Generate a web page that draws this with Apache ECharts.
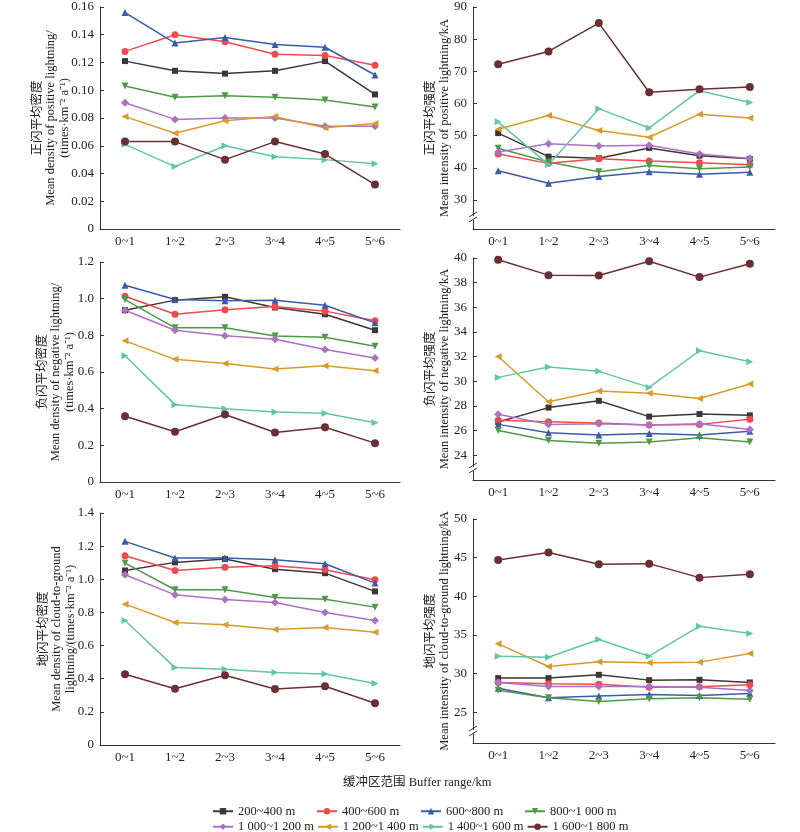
<!DOCTYPE html>
<html>
<head>
<meta charset="utf-8">
<script src="https://cdn.jsdelivr.net/npm/echarts@6/dist/echarts.min.js"></script>
<style>
  html, body { margin: 0; padding: 0; background: #fff; }
  #main { width: 800px; height: 832px; }
</style>
</head>
<body>
<div id="main"></div>
<script>
// 缓冲区范围
var categories = ['0~1', '1~2', '2~3', '3~4', '4~5', '5~6'];
var seriesNames = ['200~400 m', '400~600 m', '600~800 m', '800~1 000 m',
    '1 000~1 200 m', '1 200~1 400 m', '1 400~1 600 m', '1 600~1 800 m'];

// 正闪平均密度 (rows follow seriesNames)
var posDensity = [
    [0.121, 0.114, 0.112, 0.114, 0.121, 0.097],
    [0.128, 0.140, 0.135, 0.126, 0.125, 0.118],
    [0.156, 0.134, 0.138, 0.133, 0.131, 0.111],
    [0.103, 0.095, 0.096, 0.095, 0.093, 0.088],
    [0.091, 0.079, 0.080, 0.080, 0.074, 0.074],
    [0.081, 0.069, 0.078, 0.081, 0.073, 0.076],
    [0.061, 0.045, 0.060, 0.052, 0.050, 0.047],
    [0.063, 0.063, 0.050, 0.063, 0.054, 0.032]
];
// 正闪平均强度
var posIntensity = [
    [50.8, 43.5, 43.0, 46.2, 43.8, 42.8],
    [44.3, 41.4, 42.8, 42.1, 41.6, 41.0],
    [39.1, 35.2, 37.3, 38.8, 38.0, 38.6],
    [46.1, 41.8, 38.8, 40.7, 39.7, 40.3],
    [44.9, 47.5, 46.8, 47.0, 44.3, 42.9],
    [52.0, 56.3, 51.6, 49.5, 56.7, 55.5],
    [54.3, 41.0, 58.4, 52.4, 64.0, 60.3],
    [72.2, 76.2, 85.0, 63.5, 64.4, 65.1]
];
// 负闪平均密度
var negDensity = [
    [0.937, 0.992, 1.010, 0.952, 0.915, 0.828],
    [1.013, 0.915, 0.939, 0.957, 0.932, 0.879],
    [1.073, 0.995, 0.988, 0.992, 0.964, 0.868],
    [0.995, 0.841, 0.841, 0.796, 0.789, 0.741],
    [0.937, 0.828, 0.798, 0.779, 0.723, 0.676],
    [0.770, 0.669, 0.647, 0.616, 0.634, 0.607],
    [0.689, 0.422, 0.399, 0.382, 0.375, 0.323],
    [0.359, 0.274, 0.368, 0.270, 0.299, 0.212]
];
// 负闪平均强度
var negIntensity = [
    [26.7, 27.87, 28.42, 27.14, 27.35, 27.24],
    [26.84, 26.73, 26.62, 26.45, 26.51, 26.92],
    [26.51, 25.83, 25.64, 25.77, 25.64, 25.96],
    [26.02, 25.20, 24.98, 25.09, 25.42, 25.09],
    [27.33, 26.51, 26.56, 26.45, 26.56, 26.10],
    [32.01, 28.34, 29.21, 29.04, 28.61, 29.78],
    [30.32, 31.17, 30.81, 29.51, 32.48, 31.58],
    [39.86, 38.61, 38.58, 39.73, 38.45, 39.54]
];
// 地闪平均密度
var cgDensity = [
    [1.053, 1.102, 1.122, 1.061, 1.037, 0.927],
    [1.142, 1.053, 1.072, 1.082, 1.057, 0.997],
    [1.229, 1.128, 1.128, 1.118, 1.094, 0.977],
    [1.098, 0.937, 0.937, 0.890, 0.880, 0.832],
    [1.027, 0.906, 0.878, 0.860, 0.800, 0.751],
    [0.850, 0.739, 0.725, 0.697, 0.709, 0.681],
    [0.751, 0.467, 0.457, 0.437, 0.429, 0.371],
    [0.427, 0.340, 0.421, 0.338, 0.355, 0.252]
];
// 地闪平均强度
var cgIntensity = [
    [29.40, 29.40, 29.83, 29.14, 29.18, 28.84],
    [28.84, 28.66, 28.62, 28.23, 28.28, 28.53],
    [28.10, 26.85, 27.07, 27.28, 27.16, 27.41],
    [27.84, 26.85, 26.38, 26.72, 26.85, 26.68],
    [28.84, 28.32, 28.32, 28.32, 28.23, 27.80],
    [33.84, 30.91, 31.51, 31.38, 31.47, 32.59],
    [32.24, 32.11, 34.40, 32.24, 36.12, 35.17],
    [44.70, 45.65, 44.14, 44.22, 42.41, 42.84]
];

// 刻度
var posIntensityTicks = [30, 40, 50, 60, 70, 80, 90];
var negIntensityTicks = [24, 26, 28, 30, 32, 34, 36, 38, 40];
var cgIntensityTicks = [25, 30, 35, 40, 45, 50];

var panelData = [posDensity, posIntensity, negDensity, negIntensity, cgDensity, cgIntensity];

var FONT = '"Liberation Serif", "Times New Roman", "Noto Sans CJK SC", serif';
var colors = ['#3e3636', '#ef4b4f', '#3a5ba5', '#4f9a48', '#ab72c4', '#d99a2b', '#63c6a3', '#6b2f33'];
var symbols = ['rect', 'circle', 'triangle', 'triangle', 'diamond', 'triangle', 'triangle', 'circle'];
var symbolRotates = [0, 0, 0, 180, 0, 90, -90, 0];
var symbolSizes = [6, 7, 7, 7, 8, 7, 7, 8];

var grids = [
    {left: 100, top: 7, width: 300, height: 222},
    {left: 473, top: 7, width: 302, height: 222},
    {left: 100, top: 262, width: 300, height: 220},
    {left: 473, top: 258, width: 302, height: 222},
    {left: 100, top: 513, width: 300, height: 232},
    {left: 473, top: 519, width: 302, height: 224}
];

var axisLineStyle = {color: '#333', width: 1};

function densityFmt(d) {
    return function (v) { return v === 0 ? '0' : v.toFixed(d); };
}

var yCfg = [
    {min: 0, max: 0.16, interval: 0.02, fmt: densityFmt(2), gap: 29,
     name: '正闪平均密度\nMean density of positive lightning/\n(times·km⁻² a⁻¹)'},
    {min: 21, max: 90, ticks: posIntensityTicks, gap: 22,
     name: '正闪平均强度\nMean intensity of positive lightning/kA'},
    {min: 0, max: 1.2, interval: 0.2, fmt: densityFmt(1), gap: 24,
     name: '负闪平均密度\nMean density of negative lightning/\n(times·km⁻² a⁻¹)'},
    {min: 22, max: 40, ticks: negIntensityTicks, gap: 22,
     name: '负闪平均强度\nMean intensity of negative lightning/kA'},
    {min: 0, max: 1.4, interval: 0.2, fmt: densityFmt(1), gap: 23,
     name: '地闪平均密度\nMean density of cloud-to-ground\nlightning/(times·km⁻² a⁻¹)'},
    {min: 21, max: 50, ticks: cgIntensityTicks, gap: 22,
     name: '地闪平均强度\nMean intensity of cloud-to-ground lightning/kA'}
];

var xAxes = [], yAxes = [], series = [], graphics = [];

grids.forEach(function (g, p) {
    xAxes.push({
        type: 'category', gridIndex: p, data: categories, boundaryGap: true,
        axisLine: {lineStyle: axisLineStyle},
        axisTick: {alignWithLabel: true, inside: true, length: 4, lineStyle: axisLineStyle},
        axisLabel: {color: '#222', fontFamily: FONT, fontSize: 13, margin: 6},
        splitLine: {show: false}
    });
    var c = yCfg[p];
    var y = {
        type: 'value', gridIndex: p, min: c.min, max: c.max,
        name: c.name, nameLocation: 'middle', nameRotate: 90, nameGap: c.gap,
        nameMoveOverlap: false,
        nameTextStyle: {color: '#222', fontFamily: FONT, fontSize: 12.5, lineHeight: 13.5},
        axisLine: {show: true, lineStyle: axisLineStyle},
        axisTick: {show: true, inside: true, length: 4, lineStyle: axisLineStyle},
        axisLabel: {color: '#222', fontFamily: FONT, fontSize: 13, margin: 6},
        splitLine: {show: false}
    };
    if (c.ticks) {
        y.axisLabel.customValues = c.ticks;
        y.axisTick.customValues = c.ticks;
    } else {
        y.interval = c.interval;
        y.axisLabel.formatter = c.fmt;
    }
    yAxes.push(y);

    panelData[p].forEach(function (row, i) {
        series.push({
            type: 'line', name: seriesNames[i], xAxisIndex: p, yAxisIndex: p,
            data: row,
            symbol: symbols[i], symbolSize: symbolSizes[i], symbolRotate: symbolRotates[i],
            showAllSymbol: true,
            itemStyle: {color: colors[i]},
            lineStyle: {color: colors[i], width: 1.5},
            emphasis: {disabled: true}
        });
    });

    // 坐标轴断裂符号
    if (c.ticks) {
        var bx = g.left, by = g.top + g.height - 11;
        graphics.push({type: 'rect', shape: {x: bx - 3, y: by - 2, width: 6, height: 4},
            style: {fill: '#fff'}, z: 100});
        graphics.push({type: 'line', shape: {x1: bx - 4, y1: by - 1, x2: bx + 4, y2: by - 6},
            style: {stroke: '#333', lineWidth: 1}, z: 101});
        graphics.push({type: 'line', shape: {x1: bx - 4, y1: by + 4, x2: bx + 4, y2: by - 1},
            style: {stroke: '#333', lineWidth: 1}, z: 101});
    }
});

graphics.push({
    type: 'text', left: 343, top: 776,
    style: {text: '缓冲区范围 Buffer range/km', font: '12.5px ' + FONT, fill: '#222'}
});

var option = {
    animation: false,
    backgroundColor: '#fff',
    grid: grids,
    xAxis: xAxes,
    yAxis: yAxes,
    legend: {
        data: seriesNames,
        left: 212, top: 805, width: 430, padding: 0,
        itemWidth: 20, itemHeight: 8, itemGap: 3,
        selectedMode: false,
        textStyle: {color: '#222', fontFamily: FONT, fontSize: 12.5, width: 75, lineHeight: 12}
    },
    graphic: graphics,
    series: series
};

var myChart = echarts.init(document.getElementById('main'));
myChart.setOption(option);
</script>
</body>
</html>
